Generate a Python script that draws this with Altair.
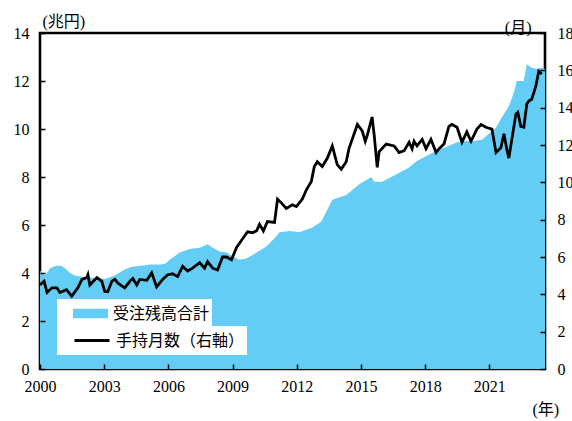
import altair as alt
import pandas as pd

# ---- data ----
area_name = "受注残高合計"
line_name = "手持月数（右軸）"

area_years = [2000.00, 2000.05, 2000.23, 2000.47, 2000.75, 2000.98, 2001.17, 2001.40, 2001.63,
              2001.91, 2002.24, 2002.61, 2003.03, 2003.50, 2003.96, 2004.24, 2004.71, 2005.17,
              2005.64, 2005.87, 2006.06, 2006.53, 2006.99, 2007.46, 2007.83, 2008.07, 2008.39,
              2008.72, 2009.00, 2009.32, 2009.65, 2010.12, 2010.58, 2010.96, 2011.19, 2011.66,
              2012.12, 2012.73, 2013.15, 2013.43, 2013.66, 2014.31, 2014.92, 2015.48, 2015.62,
              2015.99, 2016.64, 2017.25, 2017.58, 2018.32, 2019.11, 2019.49, 2019.91, 2020.28,
              2020.65, 2020.98, 2021.31, 2021.59, 2021.91, 2022.14, 2022.28, 2022.61, 2022.75,
              2022.98, 2023.22, 2023.45, 2023.60]
area_values = [4.1, 4.05, 3.9, 4.2, 4.3, 4.3, 4.2, 4.0, 3.9,
               3.85, 3.8, 3.8, 3.75, 3.9, 4.15, 4.25, 4.3, 4.35,
               4.35, 4.4, 4.55, 4.85, 5.0, 5.05, 5.2, 5.05, 4.9,
               4.85, 4.7, 4.55, 4.6, 4.85, 5.1, 5.45, 5.7, 5.75,
               5.7, 5.9, 6.15, 6.65, 7.05, 7.25, 7.7, 8.0, 7.8,
               7.8, 8.1, 8.4, 8.65, 9.0, 9.3, 9.45, 9.5, 9.5,
               9.55, 9.8, 10.05, 10.5, 10.95, 11.5, 12.0, 12.0, 12.7,
               12.55, 12.5, 12.55, 12.5]

line_years = [2000.00, 2000.19, 2000.33, 2000.56, 2000.79, 2000.93, 2001.24, 2001.48, 2001.77,
              2001.96, 2002.19, 2002.24, 2002.33, 2002.66, 2002.89, 2003.03, 2003.17, 2003.36,
              2003.50, 2003.64, 2003.96, 2004.20, 2004.34, 2004.52, 2004.66, 2004.99, 2005.22,
              2005.45, 2005.73, 2005.97, 2006.20, 2006.43, 2006.67, 2006.90, 2007.13, 2007.46,
              2007.69, 2007.83, 2008.07, 2008.30, 2008.53, 2008.72, 2008.95, 2009.18, 2009.42,
              2009.70, 2009.93, 2010.12, 2010.26, 2010.44, 2010.63, 2010.96, 2011.10, 2011.28,
              2011.51, 2011.79, 2011.98, 2012.26, 2012.45, 2012.68, 2012.82, 2012.96, 2013.19,
              2013.43, 2013.66, 2013.89, 2014.08, 2014.31, 2014.45, 2014.59, 2014.83, 2015.06,
              2015.20, 2015.29, 2015.52, 2015.62, 2015.76, 2015.85, 2016.18, 2016.55, 2016.78,
              2017.02, 2017.25, 2017.39, 2017.48, 2017.62, 2017.86, 2018.04, 2018.27, 2018.51,
              2018.65, 2018.88, 2019.11, 2019.25, 2019.49, 2019.72, 2019.95, 2020.14, 2020.42,
              2020.61, 2020.84, 2021.12, 2021.31, 2021.54, 2021.68, 2021.82, 2021.91, 2022.05,
              2022.24, 2022.33, 2022.47, 2022.61, 2022.75, 2022.84, 2022.98, 2023.17, 2023.31,
              2023.45]
line_values = [4.5, 4.7, 4.1, 4.35, 4.35, 4.1, 4.25, 3.9, 4.35,
               4.8, 4.9, 5.05, 4.5, 4.9, 4.7, 4.15, 4.15, 4.7,
               4.8, 4.6, 4.35, 4.7, 4.85, 4.5, 4.8, 4.75, 5.15,
               4.4, 4.8, 5.05, 5.1, 4.95, 5.5, 5.25, 5.4, 5.7,
               5.4, 5.75, 5.4, 5.3, 6.0, 6.0, 5.85, 6.5, 6.9,
               7.35, 7.3, 7.4, 7.75, 7.4, 7.9, 7.85, 9.1, 8.9,
               8.6, 8.8, 8.7, 9.1, 9.6, 10.05, 10.85, 11.1, 10.85,
               11.3, 11.95, 10.95, 10.7, 11.1, 11.85, 12.3, 13.1, 12.75,
               12.2, 12.5, 13.5, 12.5, 10.8, 11.65, 12.05, 11.95, 11.6,
               11.7, 12.15, 11.8, 12.2, 11.95, 12.3, 11.8, 12.3, 11.6,
               11.8, 12.05, 13.0, 13.1, 12.95, 12.15, 12.7, 12.2, 12.85,
               13.1, 12.95, 12.85, 11.6, 11.85, 12.6, 11.75, 11.3, 12.3,
               13.65, 13.75, 13.0, 12.95, 14.2, 14.35, 14.45, 15.15, 15.95,
               15.8]

x_ticks = [2000, 2003, 2006, 2009, 2012, 2015, 2018, 2021]
left_ticks = [0, 2, 4, 6, 8, 10, 12, 14]
right_ticks = [0, 2, 4, 6, 8, 10, 12, 14, 16, 18]

AREA_COLOR = "#63CDF5"
NUM_FONT = "Liberation Serif"
JP_FONT = "Liberation Serif, Noto Sans CJK JP"

area_df = pd.DataFrame({"year": area_years, "value": area_values, "series": area_name})
line_df = pd.DataFrame({"year": line_years, "value": line_values, "series": line_name})

legend_common = dict(
    title=None,
    orient="none",
    legendX=17,
    direction="vertical",
    fillColor="white",
    padding=2,
    symbolOffset=14,
    symbolSize=1225,
    labelOffset=5,
    labelFont="Noto Sans CJK JP",
    labelFontSize=16,
    labelColor="black",
    labelLimit=300,
    clipHeight=25,
)

fill_legend = alt.Legend(
    legendY=266,
    symbolType="M-1,-0.27H1V0.27H-1Z",
    symbolStrokeWidth=0,
    symbolOpacity=1,
    labelExpr="datum.label + '\u3000\u3000\u3000'",
    **legend_common,
)
stroke_legend = alt.Legend(
    legendY=293,
    symbolType="stroke",
    symbolStrokeWidth=3,
    symbolOpacity=1,
    labelExpr="datum.label + '\u3000'",
    **legend_common,
)

axis_common = dict(
    grid=False,
    domain=False,
    ticks=True,
    tickSize=5,
    tickWidth=1.5,
    tickColor="black",
    offset=-5,
    labelFont=NUM_FONT,
    labelFontSize=16,
    labelColor="black",
    titleFont=JP_FONT,
    titleFontSize=16,
    titleFontWeight="normal",
    titleColor="black",
    titleAngle=0,
    zindex=1,
)

x_enc = alt.X(
    "year:Q",
    scale=alt.Scale(domain=[2000, 2023.6], nice=False, zero=False),
    axis=alt.Axis(values=x_ticks, format="d", labelPadding=9, labelFlush=False,
                  title="(年)", titleX=492, titleY=50, titleAlign="left",
                  titleBaseline="alphabetic", **axis_common),
)

area = alt.Chart(area_df).mark_area(opacity=1, clip=True).encode(
    x=x_enc,
    y=alt.Y("value:Q", scale=alt.Scale(domain=[0, 14], nice=False),
            axis=alt.Axis(values=left_ticks, orient="left", labelPadding=11,
                          title="(兆円)", titleX=-3, titleY=-7, titleAlign="left",
                          titleBaseline="alphabetic", **axis_common)),
    fill=alt.Fill("series:N", scale=alt.Scale(domain=[area_name], range=[AREA_COLOR]),
                  legend=fill_legend),
)

line = alt.Chart(line_df).mark_line(strokeWidth=2.8, clip=True).encode(
    x=alt.X("year:Q"),
    y=alt.Y("value:Q", scale=alt.Scale(domain=[0, 18], nice=False),
            axis=alt.Axis(values=right_ticks, orient="right", labelPadding=12,
                          title="(月)", titleX=-9, titleY=-1, titleAlign="right",
                          titleBaseline="alphabetic", **axis_common)),
    stroke=alt.Stroke("series:N", scale=alt.Scale(domain=[line_name], range=["#000000"]),
                      legend=stroke_legend),
)

chart = (
    alt.layer(area, line)
    .resolve_scale(y="independent")
    .properties(
        width=505,
        height=336,
        autosize=alt.AutoSizeParams(type="none"),
        padding={"left": 40, "top": 33, "right": 27, "bottom": 52},
        background="white",
    )
    .configure_view(stroke="black", strokeWidth=2.6)
)

chart.save("out.html", embed_options={"renderer": "svg", "actions": False})
